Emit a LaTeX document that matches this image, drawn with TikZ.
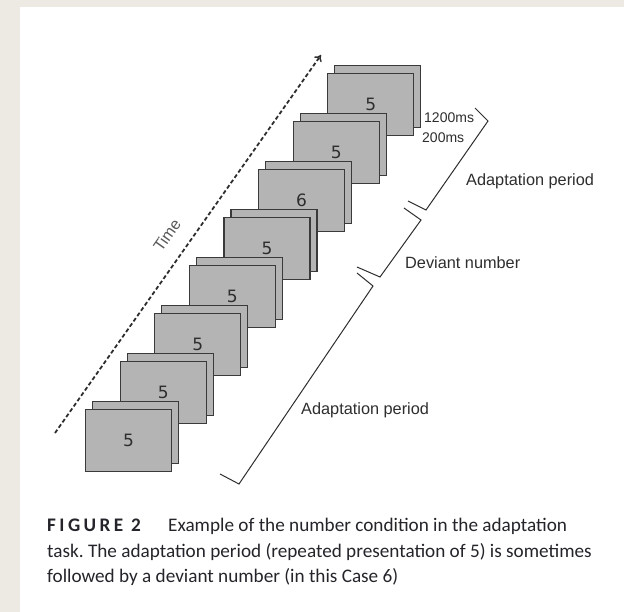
\documentclass[tikz,border=0pt]{standalone}
\usepackage{fontspec}
\setmainfont{Liberation Sans}
\newfontfamily\capfont{Carlito}
\newfontfamily\capboldfont{Carlito}[LetterSpace=18]
\newfontfamily\digitfont{DejaVu Sans}
\usetikzlibrary{arrows.meta}
\frenchspacing

\definecolor{pagebg}{HTML}{EDEAE4}
\definecolor{cardgray}{HTML}{B4B4B4}
\definecolor{cardedge}{HTML}{3A3A3A}
\definecolor{labelink}{HTML}{2E2E2E}
\definecolor{captionink}{HTML}{26242A}

\tikzset{
  cardback/.style={draw=cardedge, fill=cardgray, line width=1.2pt,
    minimum width=86pt, minimum height=62pt, inner sep=0pt, anchor=north west},
  cardfront/.style={cardback, font=\digitfont\fontsize{17}{17}\selectfont, text=labelink},
  timearrow/.style={draw=labelink, line width=1.8pt, dash pattern=on 4pt off 2.5pt,
    -{To[length=6pt,width=9pt,line width=1.4pt]}},
  bracketline/.style={draw=labelink, line width=1pt, line join=miter},
  tag/.style={font=\fontsize{16.3}{16.3}\selectfont, text=labelink, inner sep=0pt, anchor=west},
  smalltag/.style={tag, font=\fontsize{14}{14}\selectfont},
  captionline/.style={font=\capfont\fontsize{19.2}{19.2}\selectfont, text=captionink,
    inner sep=0pt, anchor=base west}
}

\begin{document}
\begin{tikzpicture}[x=1pt, y=-1pt]
  % page and margin strips
  \useasboundingbox (0,0) rectangle (624,612);
  \fill[white] (0,0) rectangle (624,612);
  \fill[pagebg] (0,0) rectangle (20,612);
  \fill[pagebg] (0,0) rectangle (624,7);

  % time axis
  \coordinate (t0) at (55,433);
  \coordinate (t1) at (321,55);
  \draw[timearrow] (t0) -- (t1);
  \node[rotate=54.9, font=\fontsize{16}{16}\selectfont, text=gray!70!black] (time) at (167,235) {Time};

  % stack of stimulus cards, drawn from the last one back to the first
  \foreach \i/\num in {7/5, 6/5, 5/6, 4/5, 3/5, 2/5, 1/5, 0/5} {
    \pgfmathsetmacro\cx{85+34.6*\i}
    \pgfmathsetmacro\cy{409-48*\i}
    \node[cardback] (back\i) at (\cx+7,\cy-8) {};
    \node[cardfront] (card\i) at (\cx,\cy) {\num};
  }

  % timing labels
  \node[smalltag] (long) at (424,118) {1200ms};
  \node[smalltag] (short) at (422,138) {200ms};

  % period brackets
  \coordinate (a1) at (475,108);
  \coordinate (a2) at (488,121);
  \coordinate (a3) at (426,210);
  \coordinate (a4) at (408,201);
  \draw[bracketline] (a1) -- (a2) -- (a3) -- (a4);

  \coordinate (d1) at (404,208);
  \coordinate (d2) at (421,220);
  \coordinate (d3) at (380,277);
  \coordinate (d4) at (357,267);
  \draw[bracketline] (d1) -- (d2) -- (d3) -- (d4);

  \coordinate (p1) at (357,273);
  \coordinate (p2) at (373,286);
  \coordinate (p3) at (239,484);
  \coordinate (p4) at (220,474);
  \draw[bracketline] (p1) -- (p2) -- (p3) -- (p4);

  \node[tag] (adapt1) at (466,181) {Adaptation period};
  \node[tag] (deviant) at (405,263) {Deviant number};
  \node[tag] (adapt2) at (301,410) {Adaptation period};

  % caption
  \node[captionline, font=\capboldfont\bfseries\fontsize{19.2}{19.2}\selectfont] (figlabel) at (47,531) {FIGURE 2};
  \node[captionline] (cap1) at (168,531) {Example of the number condition in the adaptation};
  \node[captionline] (cap2) at (47,557) {task. The adaptation period (repeated presentation of 5) is sometimes};
  \node[captionline] (cap3) at (47,582) {followed by a deviant number (in this Case 6)};
\end{tikzpicture}
\end{document}
